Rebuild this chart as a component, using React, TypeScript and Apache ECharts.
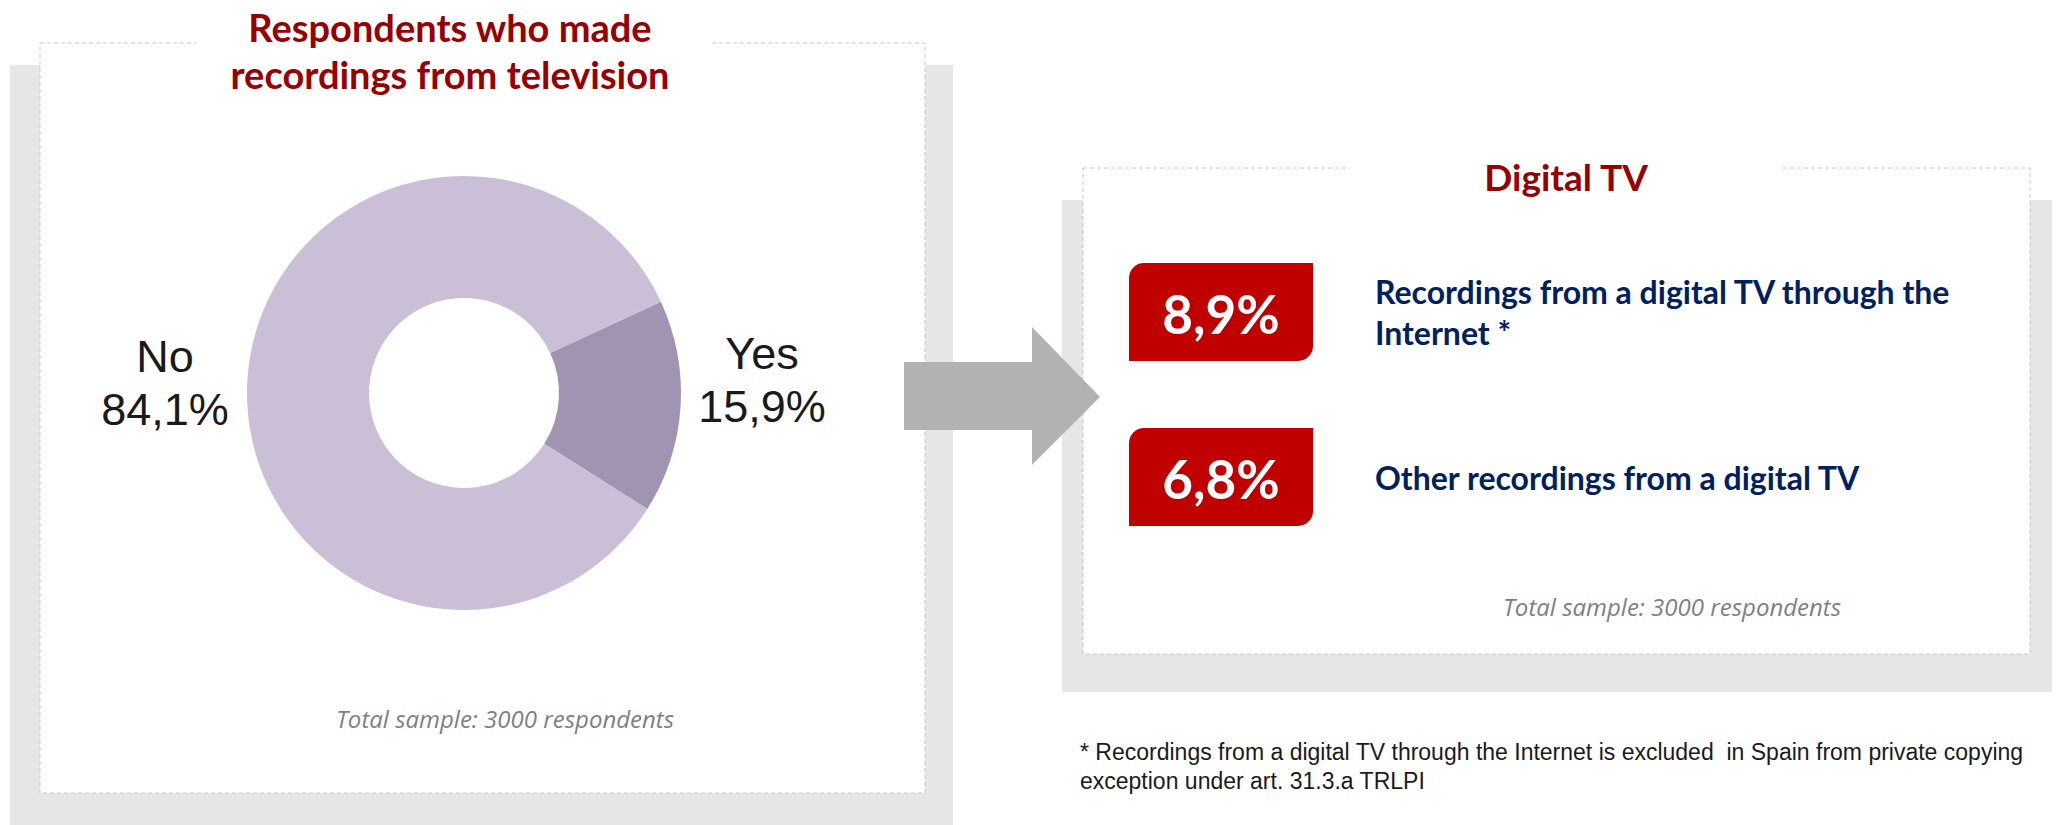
import React, { useEffect, useRef } from "react";
import * as echarts from "echarts";

const pieCategories = ["Yes", "No"];
const pieValues = [15.9, 84.1];
const pieColors = ["#A193B2", "#CBBFD7"];
const leftTitle = ["Respondents who made", "recordings from television"];
const rightTitle = "Digital TV";
const digitalValues = [8.9, 6.8];
const digitalLabels = [
  ["Recordings from a digital TV through the", "Internet *"],
  ["Other recordings from a digital TV"],
];
const sampleNote = "Total sample: 3000 respondents";
const footnote = [
  "* Recordings from a digital TV through the Internet is excluded  in Spain from private copying",
  "exception under art. 31.3.a TRLPI",
];

const fmt = (v: number) => v.toFixed(1).replace(".", ",") + "%";

const CAL = "Lato, 'Open Sans', sans-serif";
const OPEN = "'Open Sans', Lato, sans-serif";
const ARIAL = "'Liberation Sans', Arial, sans-serif";

export default function App() {
  const ref = useRef<HTMLDivElement>(null);
  useEffect(() => {
    if (!ref.current) return;
    const chart = echarts.init(ref.current, undefined, { renderer: "svg" });

    const graphic: any[] = [];
    // left panel
    graphic.push({ type: "rect", shape: { x: 10, y: 65, width: 943, height: 760 }, style: { fill: "#E6E6E6" }, z: -10 });
    graphic.push({ type: "rect", shape: { x: 40, y: 43, width: 885, height: 750 }, style: { fill: "#FFFFFF", stroke: "#C8C8C8", lineWidth: 1, lineDash: [4, 3] }, z: -9 });
    graphic.push({ type: "rect", shape: { x: 196, y: 36, width: 514, height: 14 }, style: { fill: "#FFFFFF" }, z: -8 });
    // right panel
    graphic.push({ type: "rect", shape: { x: 1062, y: 200, width: 990, height: 492 }, style: { fill: "#E6E6E6" }, z: -10 });
    graphic.push({ type: "rect", shape: { x: 1083, y: 168, width: 947, height: 486 }, style: { fill: "#FFFFFF", stroke: "#C8C8C8", lineWidth: 1, lineDash: [4, 3] }, z: -9 });
    graphic.push({ type: "rect", shape: { x: 1350, y: 161, width: 430, height: 14 }, style: { fill: "#FFFFFF" }, z: -8 });
    // arrow
    graphic.push({
      type: "polygon",
      shape: { points: [[904, 362], [1032, 362], [1032, 327], [1100, 397], [1032, 465], [1032, 430], [904, 430]] },
      style: { fill: "#B2B2B2" },
      z: 5,
    });
    // titles
    leftTitle.forEach((t, i) => {
      graphic.push({
        type: "text", x: 450, y: 27 + i * 47, z: 6,
        style: { text: t, fill: "#990000", font: `bold 38px ${CAL}`, textAlign: "center", textVerticalAlign: "middle" },
      });
    });
    graphic.push({
      type: "text", x: 1566, y: 176, z: 6,
      style: { text: rightTitle, fill: "#990000", font: `bold 37px ${CAL}`, textAlign: "center", textVerticalAlign: "middle" },
    });
    // badges + labels
    digitalValues.forEach((v, i) => {
      const top = 263 + i * 165;
      graphic.push({
        type: "rect", shape: { x: 1129, y: top, width: 184, height: 98, r: [15, 0, 15, 0] },
        style: { fill: "#C00000" }, z: 6,
      });
      graphic.push({
        type: "text", x: 1221, y: top + 50, z: 7,
        style: { text: fmt(v), fill: "#FFFFFF", font: `bold 53px ${CAL}`, textAlign: "center", textVerticalAlign: "middle" },
      });
      const lines = digitalLabels[i];
      const startY = top + 49 - ((lines.length - 1) * 41) / 2;
      lines.forEach((ln, j) => {
        graphic.push({
          type: "text", x: 1375, y: startY + j * 41, z: 7,
          style: { text: ln, fill: "#002060", font: `bold 32px ${CAL}`, textAlign: "left", textVerticalAlign: "middle" },
        });
      });
    });
    // sample notes
    graphic.push({
      type: "text", x: 505, y: 718, z: 6,
      style: { text: sampleNote, fill: "#7F7F7F", font: `italic 24px ${OPEN}`, textAlign: "center", textVerticalAlign: "middle" },
    });
    graphic.push({
      type: "text", x: 1672, y: 606, z: 6,
      style: { text: sampleNote, fill: "#7F7F7F", font: `italic 24px ${OPEN}`, textAlign: "center", textVerticalAlign: "middle" },
    });
    footnote.forEach((ln, j) => {
      graphic.push({
        type: "text", x: 1080, y: 752 + j * 29, z: 6,
        style: { text: ln, fill: "#1A1A1A", font: `23px ${ARIAL}`, textAlign: "left", textVerticalAlign: "middle" },
      });
    });

    const labelPos: Record<string, [number, number]> = { Yes: [762, 380], No: [165, 383] };

    chart.setOption({
      animation: false,
      backgroundColor: "#FFFFFF",
      graphic,
      series: [
        {
          type: "pie",
          center: [464, 393],
          radius: [95, 217],
          startAngle: 24.9,
          clockwise: true,
          silent: true,
          z: 2,
          data: pieCategories.map((c, i) => ({ name: c, value: pieValues[i], itemStyle: { color: pieColors[i] } })),
          label: {
            show: true,
            position: "outside",
            formatter: (p: any) => `${p.name}\n${fmt(p.value)}`,
            fontFamily: ARIAL,
            fontSize: 45,
            lineHeight: 53,
            color: "#1A1A1A",
            align: "center",
          },
          labelLine: { show: false },
          labelLayout: (p: any) => {
            const name = pieCategories[p.dataIndex];
            const pos = labelPos[name];
            return { x: pos[0], y: pos[1], align: "center", verticalAlign: "middle" };
          },
        },
      ],
    });
    return () => chart.dispose();
  }, []);
  return <div ref={ref} style={{ position: "fixed", left: 0, top: 0, width: 2056, height: 825 }} />;
}
